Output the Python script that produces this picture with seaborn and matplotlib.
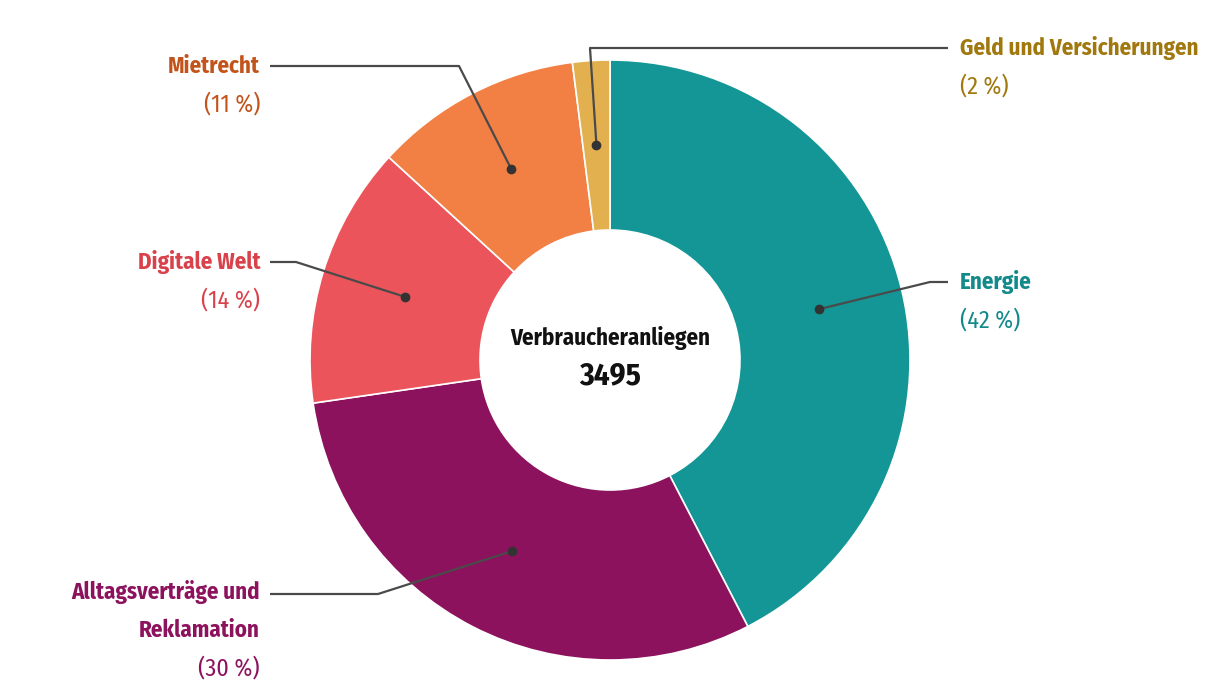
import numpy as np
import matplotlib
matplotlib.use("Agg")
import matplotlib.pyplot as plt
from matplotlib import font_manager
import seaborn as sns

# ---- data ----
categories = ["Energie", "Alltagsverträge und\nReklamation", "Digitale Welt", "Mietrecht", "Geld und Versicherungen"]
counts = [1482, 1059, 493, 391, 70]
percent_labels = ["(42 %)", "(30 %)", "(14 %)", "(11 %)", "(2 %)"]
total_label = "Verbraucheranliegen"
total_value = "3495"

wedge_colors = ["#159696", "#8C125E", "#EC545B", "#F28044", "#E3B04F"]
text_colors = ["#128A8A", "#8C125E", "#D9424B", "#C2531A", "#A0780E"]

sns.set_theme(style="white")
available = {f.name for f in font_manager.fontManager.ttflist}
family = "DejaVu Sans"
for cand in ["Fira Sans Condensed", "Roboto Condensed", "Liberation Sans Narrow",
             "Open Sans Condensed", "Noto Sans Condensed", "Roboto", "Lato"]:
    if cand in available:
        family = cand
        break
plt.rcParams['font.family'] = [family, 'DejaVu Sans']

W, H = 1220, 700
fig = plt.figure(figsize=(W / 100, H / 100), dpi=100)
ax = fig.add_axes([0, 0, 1, 1])

def py(y):
    return H - y

cx, cy = 610, py(360)
R_out, R_in = 300, 130

wedges, _ = ax.pie(counts, colors=sns.color_palette(wedge_colors), startangle=90,
                   counterclock=False, center=(cx, cy), radius=R_out,
                   wedgeprops=dict(width=R_out - R_in, edgecolor="white", linewidth=1.2),
                   frame=True)
ax.set_xlim(0, W)
ax.set_ylim(0, H)
ax.set_aspect("equal")
ax.axis("off")

# size the font so the longest label matches the reference width (~243 px)
renderer = fig.canvas.get_renderer()
probe = ax.text(0, 0, "Geld und Versicherungen", fontsize=16, fontweight="bold")
wpx = probe.get_window_extent(renderer).width
probe.remove()
fs = min(16.5, 16 * 243.0 / wpx)

# layout for leader lines: (elbow x, elbow y, end x, text x, ha, text y)
layout = [
    (930, 282, 948, 960, "left", 282),
    (378, 594, 270, 260, "right", 592),
    (296, 262, 270, 260, "right", 262),
    (459, 66, 270, 260, "right", 66),
    (590, 48, 948, 960, "left", 48),
]

r_mid = (R_out + R_in) / 2
for w, cat, pct, tc, (ex, ey, endx, tx, ha, ty) in zip(wedges, categories, percent_labels, text_colors, layout):
    ang = np.deg2rad((w.theta1 + w.theta2) / 2)
    dx, dy = cx + r_mid * np.cos(ang), cy + r_mid * np.sin(ang)
    ax.plot([dx, ex, endx], [dy, py(ey), py(ey)], color="#4a4a4a", lw=1.6, solid_capstyle="butt", zorder=5)
    ax.plot([dx], [dy], "o", color="#333333", ms=6, zorder=6)
    y = ty
    for ln in cat.split("\n"):
        ax.text(tx, py(y), ln, ha=ha, va="center", fontsize=fs, fontweight="bold", color=tc)
        y += 38
    ax.text(tx, py(y), pct, ha=ha, va="center", fontsize=fs * 1.05, color=tc)

ax.text(cx, py(338), total_label, ha="center", va="center", fontsize=fs, fontweight="bold", color="#111111")
ax.text(cx, py(376), total_value, ha="center", va="center", fontsize=fs * 1.35, fontweight="bold", color="#111111")

fig.savefig("out.png", dpi=100, facecolor="white")
